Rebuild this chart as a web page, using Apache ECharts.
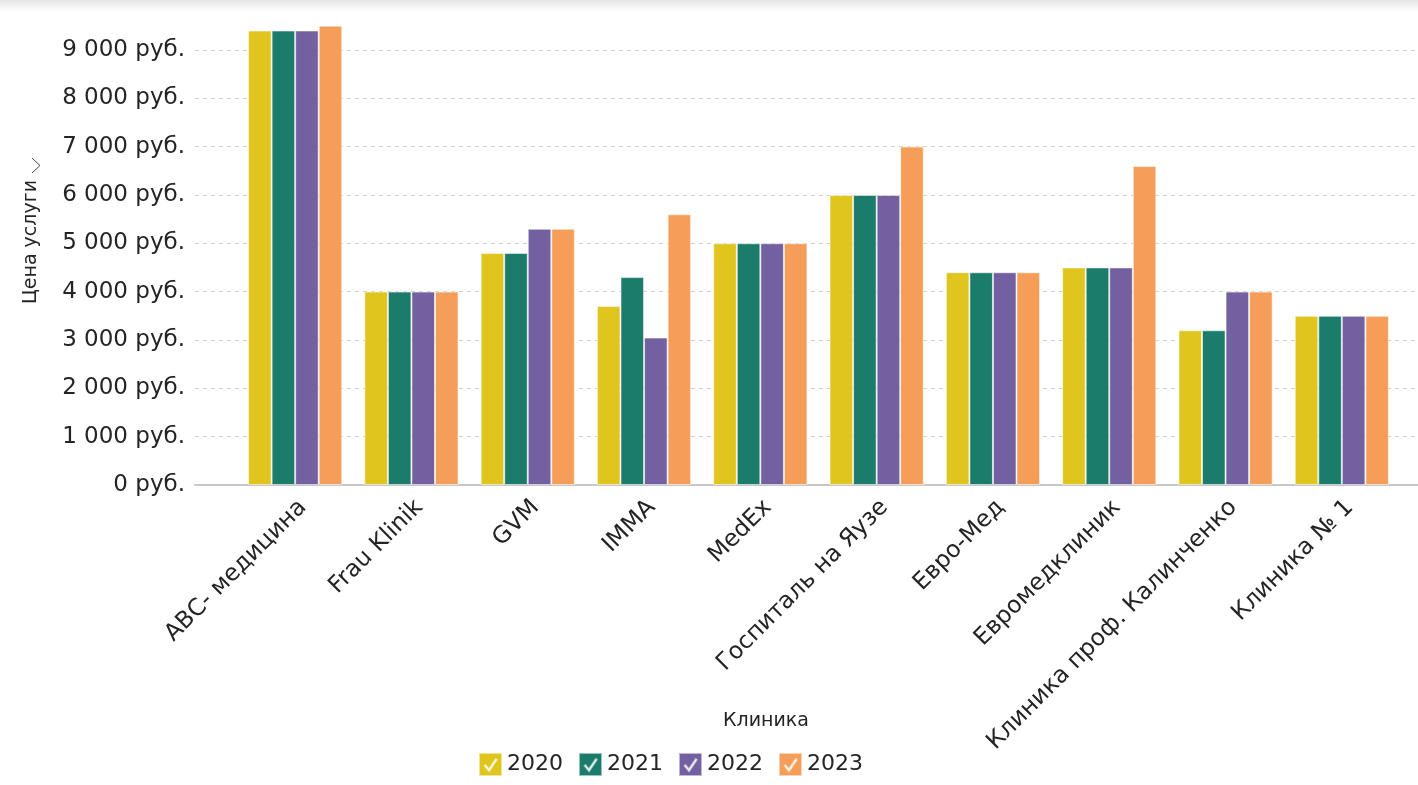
<!DOCTYPE html>
<html>
<head>
<meta charset="utf-8">
<script src="https://cdn.jsdelivr.net/npm/echarts@6/dist/echarts.min.js"></script>
<style>
html,body{margin:0;padding:0;background:#fff;}
#chart{width:1418px;height:785px;}
</style>
</head>
<body>
<div id="chart"></div>
<script>
// ---- data ----
const categories = ['АВС- медицина','Frau Klinik','GVM','IMMA','MedEx','Госпиталь на Яузе','Евро-Мед','Евромедклиник','Клиника проф. Калинченко','Клиника № 1'];
const seriesNames = ['2020','2021','2022','2023'];
const v2020 = [9400,4000,4800,3700,5000,6000,4400,4500,3200,3500];
const v2021 = [9400,4000,4800,4300,5000,6000,4400,4500,3200,3500];
const v2022 = [9400,4000,5300,3050,5000,6000,4400,4500,4000,3500];
const v2023 = [9500,4000,5300,5600,5000,7000,4400,6600,4000,3500];
const yTickStep = 1000;
const yMax = 10000;
const yAxisTitle = 'Цена услуги';
const xAxisTitle = 'Клиника';

const colors = ['#DFC51E','#1C7C6C','#7260A0','#F59E59'];
const FONT = 'DejaVu Sans';
const checkIcon = 'path://M0 0L22 0L22 22L0 22Z M5.5 12.3L9.6 17.2L16.9 6.4L16.1 5.9L9.5 15.6L6.2 11.7Z';

function fmt(v){
  const s = String(Math.round(v));
  return s.replace(/\B(?=(\d{3})+(?!\d))/g,' ') + ' руб.';
}

const values = [v2020, v2021, v2022, v2023];
const chart = echarts.init(document.getElementById('chart'), null, {renderer:'canvas'});
const option = {
  animation:false,
  backgroundColor:'#fff',
  color: colors,
  textStyle:{fontFamily:FONT},
  title:{
    text:xAxisTitle, left:761, top:707, textAlign:'center',
    textStyle:{fontFamily:FONT, fontSize:19, fontWeight:'normal', color:'#252423'}
  },
  legend:{
    data: seriesNames.map(n=>({name:n, icon:checkIcon})),
    left:473, top:747, itemWidth:23, itemHeight:23, itemGap:15,
    textStyle:{fontFamily:FONT, fontSize:22, color:'#252423'}
  },
  grid:[
    {left:237, right:18, top:1.5, bottom:300},
    {left:195, right:0, top:1.5, bottom:300}
  ],
  xAxis:[
    {type:'category', gridIndex:0, data:categories,
     axisLine:{show:false}, axisTick:{show:false},
     axisLabel:{rotate:45, fontFamily:FONT, fontSize:23.5, lineHeight:22, verticalAlign:'top', color:'#252423', margin:11, interval:0}},
    {type:'value', gridIndex:1, min:0, max:1, show:true,
     axisLine:{show:true, lineStyle:{color:'#C8C8C8', width:2}},
     axisTick:{show:false}, axisLabel:{show:false}, splitLine:{show:false}}
  ],
  yAxis:[
    {type:'value', gridIndex:0, min:0, max:yMax, interval:yTickStep, show:false, splitLine:{show:false}},
    {type:'value', gridIndex:1, min:0, max:yMax, interval:yTickStep,
     axisLine:{show:false}, axisTick:{show:false},
     axisLabel:{formatter:fmt, fontFamily:FONT, fontSize:23, color:'#252423', margin:10, showMaxLabel:false},
     splitLine:{show:true, showMaxLine:false, lineStyle:{color:'#CFCFCF', type:[4,4], width:1}}}
  ],
  series: seriesNames.map((n,i)=>({
    name:n, type:'bar', xAxisIndex:0, yAxisIndex:0, data:values[i],
    barGap:'0%', barCategoryGap:'19%',
    itemStyle:{color:colors[i], borderColor:'rgba(255,255,255,0.55)', borderWidth:1}
  })),
  graphic:[
    {type:'text', x:31, y:242, rotation:Math.PI/2,
     style:{text:yAxisTitle, fontFamily:FONT, fontSize:19, fill:'#252423', textAlign:'center', textVerticalAlign:'middle'}},
    {type:'polyline', shape:{points:[[32,158],[40,165.5],[32,173]]}, style:{stroke:'#444', lineWidth:1, fill:null}},
    {type:'rect', shape:{x:0,y:0,width:1418,height:12}, z:100,
     style:{fill:new echarts.graphic.LinearGradient(0,0,0,1,[{offset:0,color:'rgba(0,0,0,0.10)'},{offset:1,color:'rgba(0,0,0,0)'}])}}
  ]
};
chart.setOption(option);
</script>
</body>
</html>
